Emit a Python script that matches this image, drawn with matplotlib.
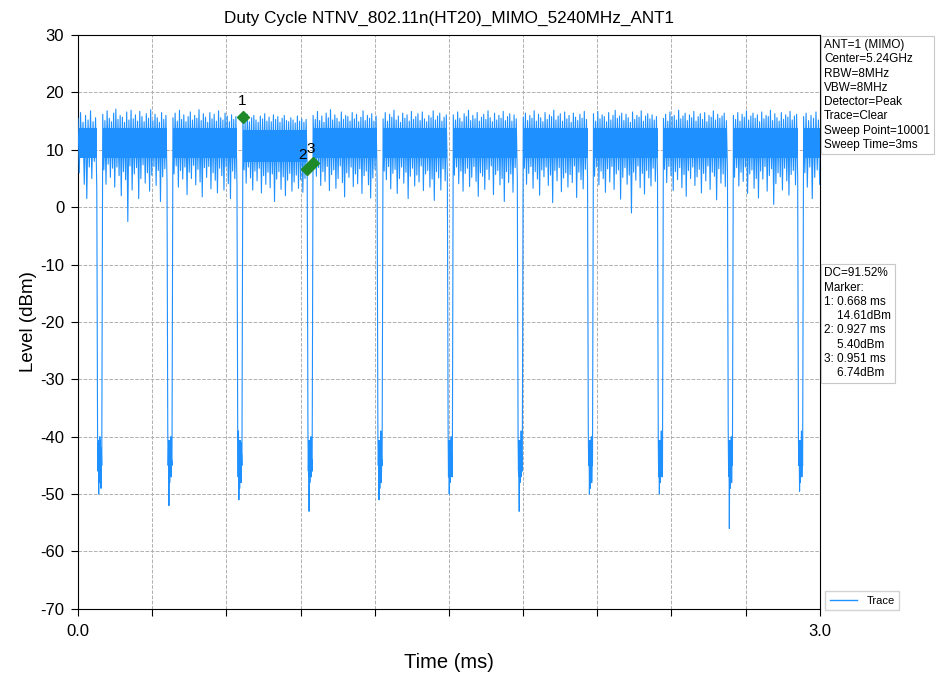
import numpy as np
import matplotlib
matplotlib.use('Agg')
import matplotlib.pyplot as plt
from matplotlib.lines import Line2D

plt.rcParams['font.family'] = ['Liberation Sans', 'DejaVu Sans']
plt.rcParams['axes.unicode_minus'] = False

# Bursts: Zeitfenster (ms)
burst_start = [0.000, 0.100, 0.384, 0.667, 0.951, 1.234, 1.518, 1.801, 2.085, 2.368, 2.651, 2.935]
burst_end = [0.076, 0.360, 0.643, 0.927, 1.210, 1.494, 1.777, 2.061, 2.344, 2.627, 2.911, 3.000]
# dichter Kern des Bandes (dBm)
core_top = [13.8, 13.8, 13.8, 13.5, 13.8, 13.8, 13.8, 13.8, 13.8, 13.8, 13.8, 13.8]
core_bot = [8.6, 8.6, 8.6, 7.8, 8.6, 8.6, 8.6, 8.6, 8.6, 8.6, 8.6, 8.6]

# Spitzen nach oben je Burst (dBm)
burst_peaks = [
    [15.5, 16.5, 14.8, 16.0, 15.2, 16.8, 14.9, 15.6],
    [16.2, 15.1, 16.8, 15.5, 14.9, 16.4, 17.1, 15.3, 16.0, 15.7, 14.8, 16.6, 15.2, 16.9, 15.4,
     16.1, 15.0, 16.7, 15.8, 14.9, 16.3, 15.5, 17.0, 15.1, 16.2, 15.6, 14.8, 16.5, 15.3, 16.0],
    [15.6, 16.4, 15.0, 16.9, 15.3, 16.1, 14.9, 15.8, 16.6, 15.2, 16.0, 15.5, 17.0, 15.1, 16.3,
     15.7, 14.8, 16.5, 15.4, 16.2, 15.0, 16.8, 15.6, 15.2, 16.4, 15.9, 14.9, 16.1, 15.3, 15.8],
    [15.8, 15.0, 16.2, 14.9, 15.6, 16.0, 15.2, 14.8, 15.9, 15.4, 16.3, 15.0, 15.7, 14.9, 16.1,
     15.3, 15.8, 14.8, 15.5, 16.0, 15.1, 14.9, 15.6, 15.2, 14.7, 15.9, 15.0, 15.4, 14.8, 15.3],
    [16.0, 15.3, 16.7, 15.1, 15.9, 14.8, 16.4, 15.6, 17.0, 15.2, 16.1, 15.5, 14.9, 16.6, 15.3,
     16.0, 15.8, 15.0, 16.5, 15.4, 16.2, 14.9, 15.7, 16.8, 15.1, 16.0, 15.5, 16.3, 15.0, 15.9],
    [15.4, 16.5, 15.0, 16.2, 15.7, 16.9, 15.2, 15.9, 14.8, 16.4, 15.5, 16.1, 15.0, 16.7, 15.3,
     15.8, 16.3, 15.1, 16.6, 15.4, 14.9, 16.0, 15.6, 16.8, 15.2, 15.9, 16.4, 15.0, 15.7, 16.1],
    [16.1, 15.2, 16.6, 15.5, 14.9, 16.3, 15.8, 16.9, 15.1, 16.0, 15.4, 16.5, 15.0, 15.7, 16.2,
     15.3, 16.8, 15.6, 14.9, 16.4, 15.2, 16.0, 15.5, 16.7, 15.1, 15.8, 16.3, 15.0, 16.1, 15.4],
    [15.7, 16.4, 15.1, 16.0, 15.5, 16.8, 15.0, 16.2, 15.6, 14.9, 16.5, 15.3, 16.1, 15.8, 16.9,
     15.2, 15.9, 16.3, 15.0, 16.6, 15.4, 16.0, 14.8, 16.4, 15.7, 15.1, 16.2, 15.5, 16.7, 15.3],
    [16.3, 15.0, 16.7, 15.4, 16.1, 15.8, 14.9, 16.5, 15.2, 16.0, 16.9, 15.5, 15.9, 16.4, 15.1,
     16.2, 15.6, 14.8, 16.6, 15.3, 16.0, 15.7, 16.8, 15.0, 15.9, 16.3, 15.4, 16.1, 15.2, 15.8],
    [15.5, 16.2, 15.0, 16.6, 15.8, 16.0, 15.2, 16.9, 15.4, 15.9, 16.4, 15.1, 16.1, 15.6, 16.7,
     15.0, 15.8, 16.3, 15.3, 16.5, 14.9, 16.0, 15.7, 16.8, 15.2, 16.2, 15.5, 15.9, 16.4, 15.1],
    [16.0, 15.3, 16.5, 15.0, 16.2, 15.7, 16.8, 15.2, 15.9, 16.4, 15.5, 16.1, 14.9, 16.6, 15.4,
     16.0, 15.8, 16.9, 15.1, 16.3, 15.6, 15.0, 16.5, 15.3, 16.1, 15.7, 16.7, 15.2, 15.9, 16.2],
    [15.8, 16.4, 15.1, 16.0, 15.5, 16.6, 15.2],
]
# Einbrüche nach unten je Burst (dBm)
burst_dips = [
    [6.0, 9.0, 4.0, 1.5, 7.0, 5.0, 8.0, 3.0],
    [6.5, 4.0, 7.5, 5.2, 6.8, 3.5, 7.0, 5.5, 2.0, 6.2, 4.8, -2.5, 7.2, 3.0, 5.8,
     6.9, 1.5, 5.0, 7.4, 4.2, 6.0, 2.8, 5.6, 7.1, 3.8, 6.4, 1.0, 5.3, 6.7, 4.5],
    [5.8, 7.2, 3.5, 6.4, 4.9, 7.0, 2.2, 6.1, 5.0, 7.3, 3.9, 6.6, 4.4, 1.8, 6.9,
     5.2, 7.1, 3.2, 6.0, 4.7, 2.5, 6.8, 5.5, 3.0, 7.0, 4.1, 1.5, 6.3, 5.0, 3.6],
    [6.5, 4.2, 7.0, 5.1, 3.0, 6.3, 4.6, 6.8, 2.5, 5.5, 4.0, 6.1, 3.4, 5.8, 1.0,
     4.9, 6.2, 3.1, 5.3, 2.0, 4.7, 5.9, 2.8, 4.4, 5.6, 3.3, 4.8, 2.6, 5.0, 6.6],
    [7.7, 5.4, 6.9, 3.8, 6.2, 4.5, 7.1, 2.9, 5.7, 6.5, 3.3, 5.0, 7.2, 4.3, 1.8,
     6.0, 5.2, 7.0, 3.6, 5.8, 4.1, 6.7, 2.4, 5.5, 6.3, 3.9, 1.6, 5.1, 6.6, 4.0],
    [6.3, 4.8, 7.1, 3.2, 5.9, 6.6, 2.4, 5.0, 7.0, 4.2, 6.1, 1.5, 5.4, 6.8, 3.7,
     5.6, 4.4, 7.2, 2.9, 5.8, 6.4, 3.5, 4.9, 1.2, 6.2, 5.1, 3.0, 6.7, 4.6, 5.3],
    [5.6, 7.0, 4.1, 6.3, 2.8, 5.9, 6.8, 3.6, 5.2, 7.1, 4.5, 1.9, 6.0, 5.4, 3.1,
     6.6, 4.8, 7.2, 2.2, 5.7, 6.4, 3.9, 5.0, 1.0, 6.2, 4.3, 5.8, 2.6, 6.9, 4.7],
    [6.8, 4.0, 5.9, 7.1, 3.3, 6.2, 4.9, 2.1, 6.5, 5.3, 7.0, 3.8, 5.6, 0.8, 6.4,
     4.6, 6.9, 2.7, 5.1, 6.0, 3.5, 5.7, 4.3, 7.2, 1.7, 6.1, 4.8, 3.2, 6.6, 5.2],
    [5.4, 7.0, 3.9, 6.3, 5.0, 2.6, 6.7, 4.4, 7.1, 3.1, 5.8, 6.5, 1.4, 5.2, 6.9,
     4.0, 5.6, -1.0, 6.1, 4.7, 7.2, 3.4, 5.9, 2.3, 6.4, 5.1, 3.7, 6.8, 4.5, 5.5],
    [6.6, 4.3, 7.1, 5.5, 2.9, 6.2, 4.8, 6.9, 3.4, 5.7, 1.9, 6.4, 5.0, 7.0, 3.8,
     5.3, 6.6, 2.5, 5.9, 4.6, 7.2, 3.1, 6.1, 5.4, 1.3, 6.7, 4.2, 5.8, 3.6, 6.3],
    [5.2, 6.9, 3.7, 6.1, 4.5, 7.0, 2.4, 5.8, 6.5, 3.3, 5.0, 1.6, 6.3, 4.9, 7.1,
     2.8, 5.5, 6.7, 0.5, 4.1, 6.0, 5.3, 3.0, 6.8, 4.6, 2.1, 5.7, 6.4, 3.9, 5.1],
    [6.0, 3.5, 7.0, 1.5, 5.2, 6.5, 4.0],
]

# Pausen zwischen den Bursts (ms) und Pegel darin (dBm)
gap_start = [0.076, 0.360, 0.643, 0.927, 1.210, 1.494, 1.777, 2.061, 2.344, 2.627, 2.911]
gap_end = [0.100, 0.384, 0.667, 0.951, 1.234, 1.518, 1.801, 2.085, 2.368, 2.651, 2.935]
gap_levels = [
    [-39, -46, -41, -50, -43, -48, -40, -47, -44, -49, -42, -45],
    [-39, -45, -42, -52, -41, -48, -43, -46, -40, -47, -44, -45],
    [-40, -47, -39, -51, -42, -49, -44, -46, -41, -48, -43, -45],
    [-39, -46, -41, -53, -43, -48, -42, -45, -40, -47, -44, -46],
    [-40, -45, -42, -51, -41, -49, -43, -46, -39, -48, -44, -45],
    [-39, -47, -41, -50, -44, -48, -42, -45, -40, -46, -43, -47],
    [-40, -46, -42, -53, -41, -48, -44, -47, -39, -45, -43, -46],
    [-39, -45, -41, -50, -43, -49, -42, -46, -40, -48, -44, -45],
    [-40, -47, -42, -50, -41, -48, -43, -45, -39, -46, -44, -47],
    [-39, -46, -41, -56, -43, -49, -44, -47, -40, -48, -42, -45],
    [-40, -45, -42, -49.5, -41, -48, -43, -46, -39, -47, -44, -45],
]
gap_top = -40.5
gap_bot = -47.0

# Marker
marker_names = ['1', '2', '3']
marker_t = [0.668, 0.927, 0.951]
marker_y = [15.8, 6.6, 7.7]

info_text = ("ANT=1 (MIMO)\nCenter=5.24GHz\nRBW=8MHz\nVBW=8MHz\nDetector=Peak\n"
             "Trace=Clear\nSweep Point=10001\nSweep Time=3ms")
marker_text = ("DC=91.52%\nMarker:\n1: 0.668 ms\n    14.61dBm\n2: 0.927 ms\n"
               "    5.40dBm\n3: 0.951 ms\n    6.74dBm")

# Spur zusammensetzen: Spitze/Einbruch abwechselnd, dann Pause
t_all, y_all = [], []
for i in range(len(burst_peaks)):
    lv = []
    for p, d in zip(burst_peaks[i], burst_dips[i]):
        lv.extend([p, d])
    t_all.extend(np.linspace(burst_start[i], burst_end[i], len(lv)))
    y_all.extend(lv)
    if i < len(gap_levels):
        g = gap_levels[i]
        t_all.extend(np.linspace(gap_start[i] + 0.003, gap_end[i] - 0.004, len(g)))
        y_all.extend(g)

color = '#1e90ff'
fig = plt.figure(figsize=(9.4, 6.75), dpi=100)
ax = fig.add_axes([0.083, 0.098, 0.789, 0.850])

for i in range(len(burst_peaks)):
    ax.fill_between([burst_start[i], burst_end[i]], core_bot[i], core_top[i],
                    color=color, lw=0, zorder=2)
for i in range(len(gap_start)):
    ax.fill_between([gap_start[i] + 0.004, gap_end[i] - 0.006], gap_bot, gap_top,
                    color=color, lw=0, zorder=2)
ax.plot(t_all, y_all, color=color, lw=0.8, zorder=3)
ax.plot(marker_t, marker_y, 'D', color='#1f8a2a', ms=6, ls='none', zorder=4)
ax.text(marker_t[0] - 0.005, marker_y[0] + 1.5, marker_names[0], fontsize=11, ha='center', va='bottom', zorder=5)
ax.text(marker_t[1] - 0.02, marker_y[1] + 1.2, marker_names[1], fontsize=11, ha='center', va='bottom', zorder=5)
ax.text(marker_t[2] - 0.01, marker_y[2] + 1.2, marker_names[2], fontsize=11, ha='center', va='bottom', zorder=5)

ax.set_xlim(0, 3.0)
ax.set_ylim(-70, 30)
xt = np.arange(0, 3.01, 0.3)
ax.set_xticks(xt)
ax.set_xticklabels(['0.0'] + [''] * (len(xt) - 2) + ['3.0'], fontsize=12)
ax.set_yticks(np.arange(-70, 31, 10))
ax.tick_params(axis='y', labelsize=12, length=5, pad=5)
ax.tick_params(axis='x', length=5, pad=6)
ax.grid(True, color='#b0b0b0', ls='--', lw=0.7)
ax.set_axisbelow(True)

ax.set_title('Duty Cycle NTNV_802.11n(HT20)_MIMO_5240MHz_ANT1', fontsize=12.3, pad=9)
ax.set_xlabel('Time (ms)', fontsize=14.5, labelpad=10)
ax.set_ylabel('Level (dBm)', fontsize=13.5, labelpad=2)

box = dict(boxstyle='square,pad=0.3', facecolor='white', edgecolor='#c8c8c8', lw=0.8)
ax.text(1.006, 0.993, info_text, transform=ax.transAxes, fontsize=8.5, va='top', ha='left',
        linespacing=1.25, bbox=box)
ax.text(1.006, 0.595, marker_text, transform=ax.transAxes, fontsize=8.5, va='top', ha='left',
        linespacing=1.25, bbox=box)
handle = Line2D([], [], color=color, lw=1.0)
ax.legend([handle], ['Trace'], loc='lower left', bbox_to_anchor=(1.0, -0.012), fontsize=8,
          frameon=True, fancybox=False, edgecolor='#c8c8c8', handlelength=2.5)

fig.savefig('out.png', dpi=100)
plt.close(fig)
